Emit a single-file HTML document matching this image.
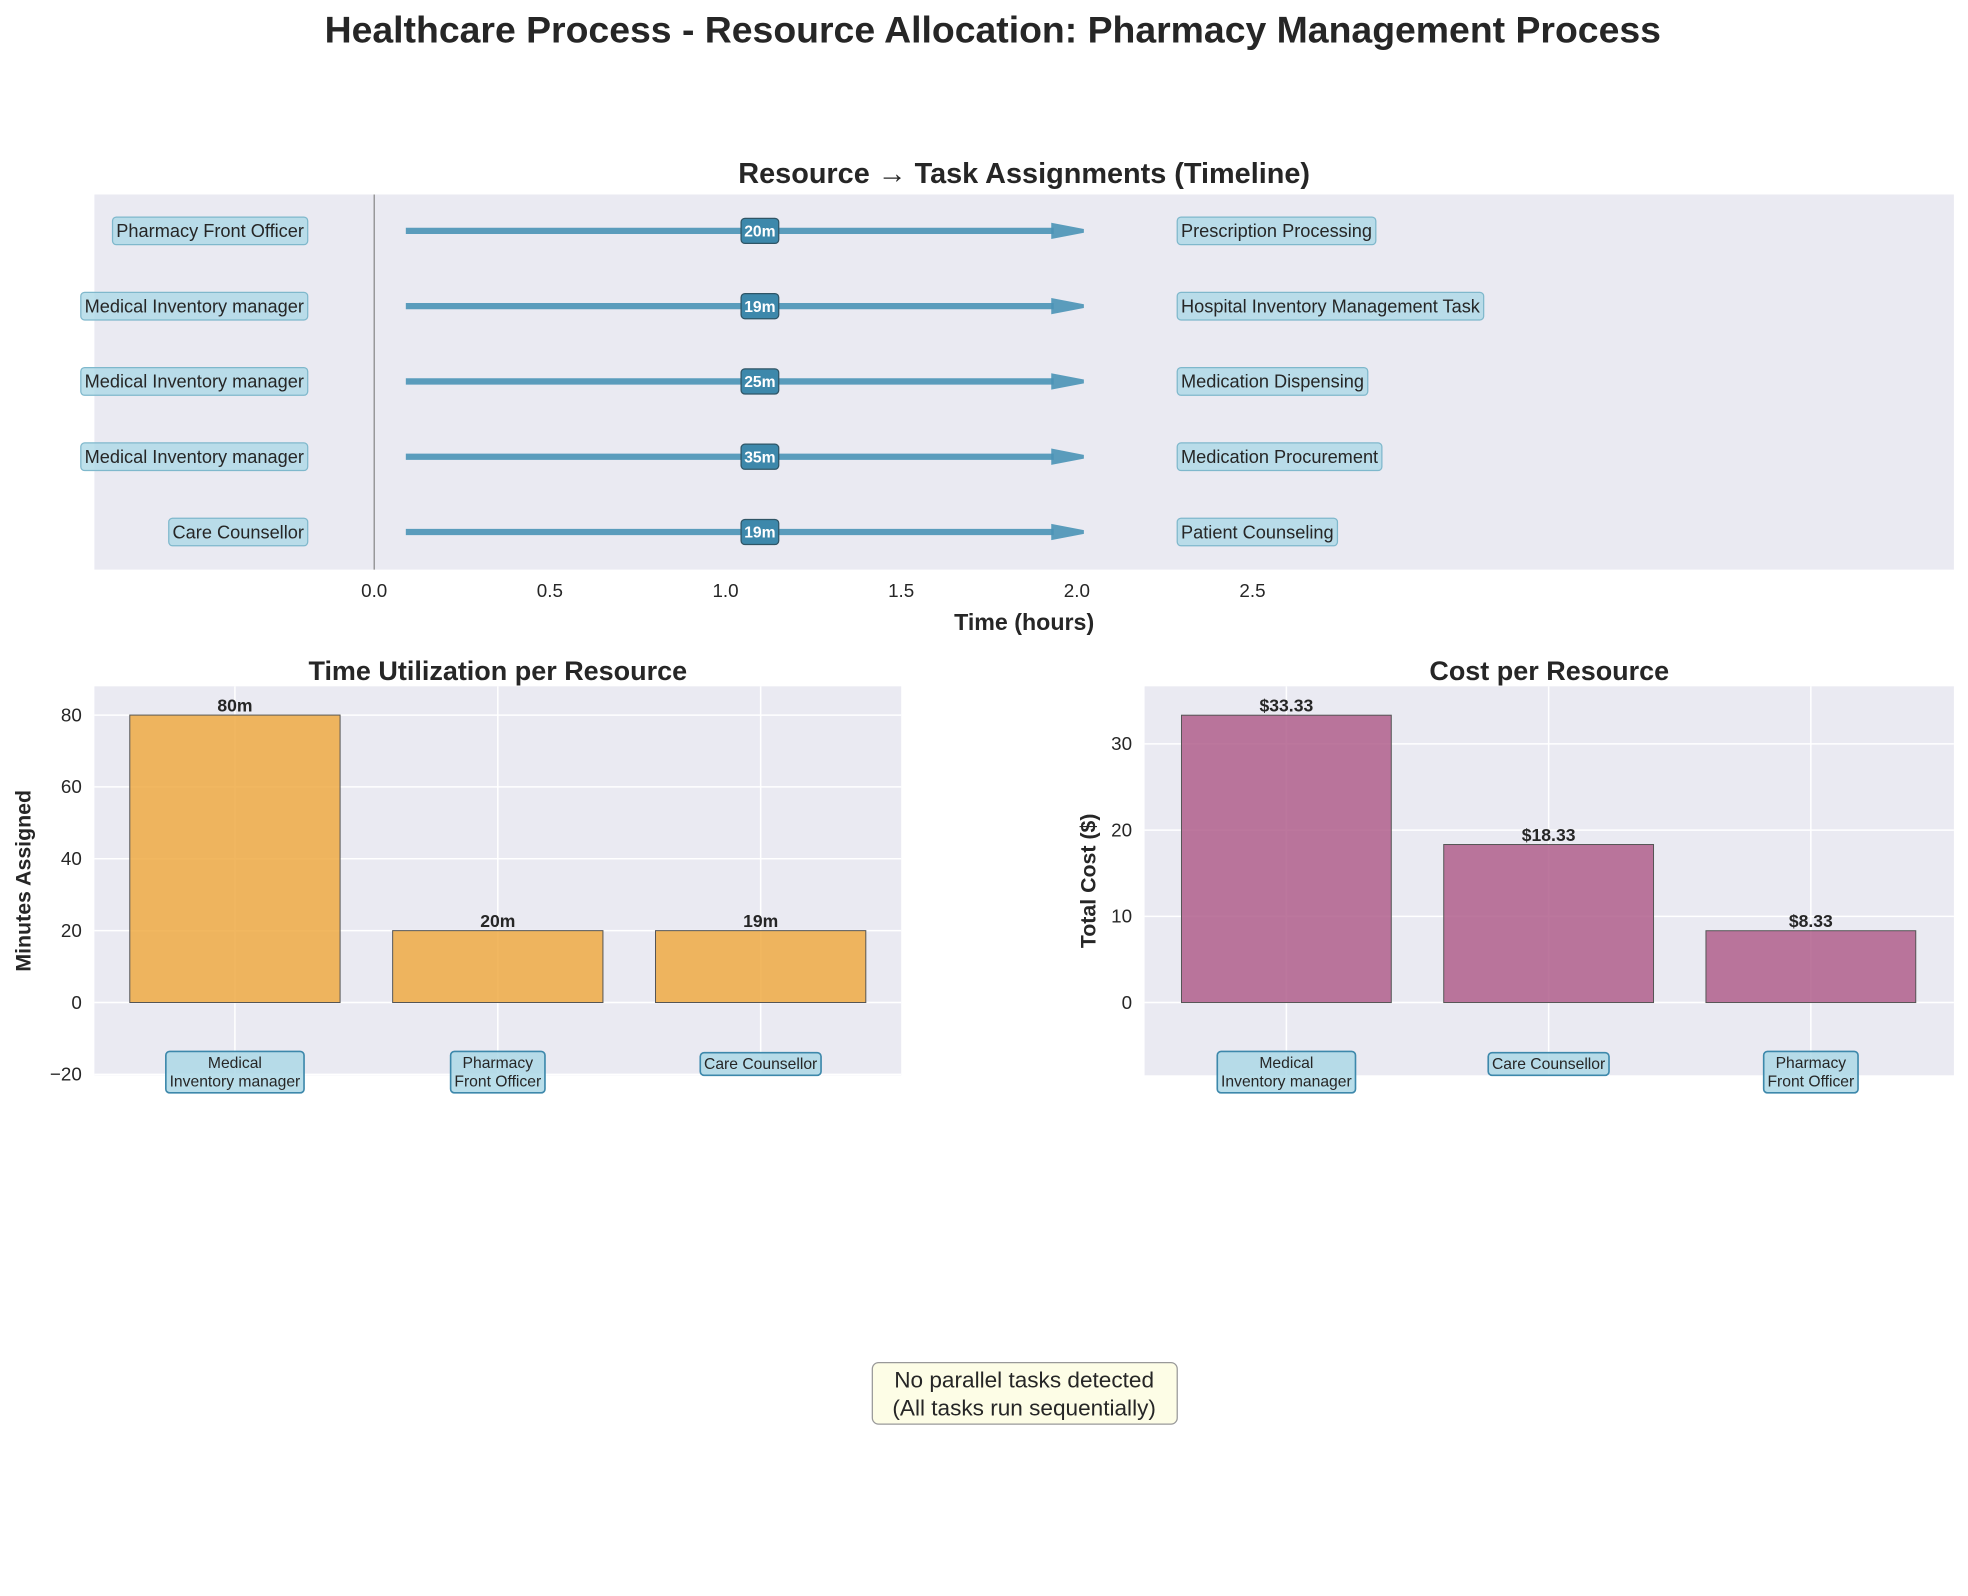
<!DOCTYPE html>
<html><head><meta charset="utf-8">
<style>
html,body{margin:0;padding:0;background:#fff;}
svg{display:block;font-family:"Liberation Sans",sans-serif;}
</style></head>
<body>
<svg id="chart" width="1968" height="1596" viewBox="0 0 1568 1272" xmlns="http://www.w3.org/2000/svg">
<text x="791" y="34" text-anchor="middle" font-size="29.8" font-weight="bold" fill="#262626">Healthcare Process - Resource Allocation: Pharmacy Management Process</text>
<g id="top"></g>
<g id="left"></g>
<g id="right"></g>
<g>
<rect x="695" y="1086" width="243" height="49" rx="5" fill="#fdfde6" stroke="#999" stroke-width="1"/>
<text x="816" y="1106" text-anchor="middle" font-size="18" fill="#262626">No parallel tasks detected</text>
<text x="816" y="1128" text-anchor="middle" font-size="18" fill="#262626">(All tasks run sequentially)</text>
</g>
</svg>
<script>
const timelineResources = ["Pharmacy Front Officer","Medical Inventory manager","Medical Inventory manager","Medical Inventory manager","Care Counsellor"];
const timelineTasks = ["Prescription Processing","Hospital Inventory Management Task","Medication Dispensing","Medication Procurement","Patient Counseling"];
const timelineDurations = ["20m","19m","25m","35m","19m"];
const timelineStart = [0.09,0.09,0.09,0.09,0.09];
const timelineEnd = [2.02,2.02,2.02,2.02,2.02];
const timeTicks = [0,0.5,1,1.5,2,2.5];

const utilCategories = [["Medical","Inventory manager"],["Pharmacy","Front Officer"],["Care Counsellor"]];
const utilValues = [80,20,20];
const utilLabels = ["80m","20m","19m"];
const utilTicks = [-20,0,20,40,60,80];

const costCategories = [["Medical","Inventory manager"],["Care Counsellor"],["Pharmacy","Front Officer"]];
const costValues = [33.33,18.33,8.33];
const costLabels = ["$33.33","$18.33","$8.33"];
const costTicks = [0,10,20,30];

const NS="http://www.w3.org/2000/svg";
function mk(parent,tag,attrs,text){const e=document.createElementNS(NS,tag);for(const k in attrs)e.setAttribute(k,attrs[k]);if(text!==undefined)e.textContent=text;parent.appendChild(e);return e;}

// ---------- Timeline ----------
(function(){
  const g=document.getElementById('top');
  const L=75,R=1557,T=155,B=454;
  const x=h=>298+h*280;
  const yRow=i=>184+i*60;
  mk(g,'rect',{x:L,y:T,width:R-L,height:B-T,fill:'#eaeaf2'});
  const st=mk(g,'text',{x:816,y:146,'text-anchor':'middle','font-size':23,'font-weight':'bold',fill:'#262626'},'Resource → Task Assignments (Timeline)');
  
  
  mk(g,'line',{x1:x(0),x2:x(0),y1:T,y2:B,stroke:'#888','stroke-width':1});
  timeTicks.forEach(t=>{
    const tl=mk(g,'text',{x:x(t),y:476,'text-anchor':'middle','font-size':15,fill:'#262626'},t.toFixed(1));
    
    
  });
  const xl=mk(g,'text',{x:816,y:502,'text-anchor':'middle','font-size':18.5,'font-weight':'bold',fill:'#262626'},'Time (hours)');
  
  
  timelineResources.forEach((r,i)=>{
    const y=yRow(i);
    const rg=mk(g,'g',{});
    
    
    const rb=mk(rg,'rect',{y:y-11,height:22,rx:3,fill:'#add8e6','fill-opacity':0.8,stroke:'#7fb8cc','stroke-width':1});
    
    
    const rt=mk(rg,'text',{x:242,y:y+5,'text-anchor':'end','font-size':14.5,fill:'#262626'},r);
    const w=rt.getComputedTextLength()+6;
    rb.setAttribute('x',245-w);rb.setAttribute('width',w);
    const x0=x(timelineStart[i]),x1=x(timelineEnd[i]);
    const ar=mk(rg,'line',{x1:x0,x2:x1-24,y1:y,y2:y,stroke:'#4a94b6','stroke-width':5,'stroke-opacity':0.9});
    
    
    mk(rg,'polygon',{points:`${x1-26},${y-6.5} ${x1},${y-1.5} ${x1},${y+1.5} ${x1-26},${y+6.5}`,fill:'#4a94b6','fill-opacity':0.9});
    const mx=x((timelineStart[i]+timelineEnd[i])/2)+12;
    const db=mk(rg,'rect',{x:mx-15,y:y-10,width:30,height:20,rx:3,fill:'#3d88ab',stroke:'#2f5566','stroke-width':1});
    
    
    mk(rg,'text',{x:mx,y:y+4.5,'text-anchor':'middle','font-size':12.5,'font-weight':'bold',fill:'#fff'},timelineDurations[i]);
    const t=timelineTasks[i];
    const tb=mk(rg,'rect',{x:938,y:y-11,height:22,rx:3,fill:'#add8e6','fill-opacity':0.8,stroke:'#7fb8cc','stroke-width':1});
    
    
    const tt=mk(rg,'text',{x:941,y:y+5,'font-size':14.5,fill:'#262626'},t);
    tb.setAttribute('width',tt.getComputedTextLength()+6);
  });
})();

// ---------- Bar panels ----------
function barPanel(gid,o){
  const g=document.getElementById(gid);
  const {L,R,T,B,vmin,vmax,cats,vals,labels,ticks,color,title,ylabel,ylx,tickFmt,c0,step}=o;
  const y=v=>B-(v-vmin)/(vmax-vmin)*(B-T);
  mk(g,'rect',{x:L,y:T,width:R-L,height:B-T,fill:'#eaeaf2'});
  const cx=i=>c0+step*i;
  ticks.forEach(t=>{
    mk(g,'line',{x1:L,x2:R,y1:y(t),y2:y(t),stroke:'#fff','stroke-width':1.2});
    const tl=mk(g,'text',{x:L-10,y:y(t)+5,'text-anchor':'end','font-size':15,fill:'#262626'},tickFmt(t));
    
    
  });
  cats.forEach((c,i)=>mk(g,'line',{x1:cx(i),x2:cx(i),y1:T,y2:B,stroke:'#fff','stroke-width':1.2}));
  const tt=mk(g,'text',{x:(L+R)/2,y:T-5,'text-anchor':'middle','font-size':21.5,'font-weight':'bold',fill:'#262626'},title);
  
  
  const yl=mk(g,'text',{x:ylx,y:(T+B)/2,'text-anchor':'middle','font-size':17,'font-weight':'bold',fill:'#262626',transform:`rotate(-90 ${ylx} ${(T+B)/2})`},ylabel);
  
  
  const bw=step*0.8;
  vals.forEach((v,i)=>{
    const b=mk(g,'rect',{x:cx(i)-bw/2,y:y(v),width:bw,height:y(0)-y(v),fill:color,'fill-opacity':0.85,stroke:'#555','stroke-width':0.8});
    
    
    const vl=mk(g,'text',{x:cx(i),y:y(v)-3,'text-anchor':'middle','font-size':14,'font-weight':'bold',fill:'#262626'},labels[i]);
    
    
    const lines=cats[i];
    const h=lines.length*15+3;
    const top=lines.length>1?838:839;
    const cb=mk(g,'rect',{y:top,height:h,rx:3,fill:'#add8e6','fill-opacity':0.85,stroke:'#3d88ab','stroke-width':1.3});
    
    
    let w=0;
    lines.forEach((s,k)=>{const te=mk(g,'text',{x:cx(i),y:top+13+k*15,'text-anchor':'middle','font-size':12.5,fill:'#262626'},s);w=Math.max(w,te.getComputedTextLength());});
    w+=6;
    cb.setAttribute('x',cx(i)-w/2);cb.setAttribute('width',w);
  });
}
barPanel('left',{L:75,R:718,T:547,B:857,vmin:-20.26,vmax:88,c0:187,step:209.5,cats:utilCategories,vals:utilValues,labels:utilLabels,ticks:utilTicks,color:'#eeaa44',title:'Time Utilization per Resource',ylabel:'Minutes Assigned',ylx:24,tickFmt:t=>t<0?'\u2212'+Math.abs(t):String(t)});
barPanel('right',{L:912,R:1557,T:547,B:857,vmin:-8.44,vmax:36.68,c0:1025,step:209,cats:costCategories,vals:costValues,labels:costLabels,ticks:costTicks,color:'#b05f8c',title:'Cost per Resource',ylabel:'Total Cost ($)',ylx:873,tickFmt:t=>String(t)});
</script>
</body></html>
